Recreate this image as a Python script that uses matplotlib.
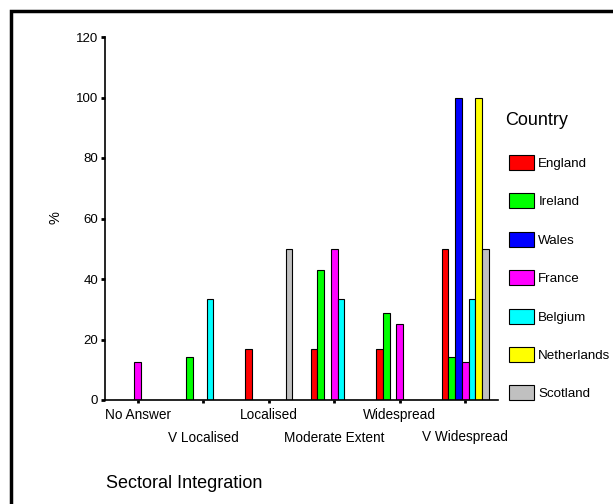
import numpy as np
import matplotlib.pyplot as plt
from matplotlib.patches import Rectangle

plt.rcParams['font.family'] = ['Liberation Sans', 'DejaVu Sans']

# Share of responses (%) per integration category, one list per country
categories = ['No Answer', 'V Localised', 'Localised', 'Moderate Extent', 'Widespread', 'V Widespread']
england = [0, 0, 16.7, 16.7, 16.7, 50]
ireland = [0, 14.3, 0, 42.9, 28.6, 14.3]
wales = [0, 0, 0, 0, 0, 100]
france = [12.5, 0, 0, 50, 25, 12.5]
belgium = [0, 33.3, 0, 33.3, 0, 33.3]
netherlands = [0, 0, 0, 0, 0, 100]
scotland = [0, 0, 50, 0, 0, 50]

countries = ['England', 'Ireland', 'Wales', 'France', 'Belgium', 'Netherlands', 'Scotland']
series = [england, ireland, wales, france, belgium, netherlands, scotland]
colors = ['#ff0000', '#00ff00', '#0000ff', '#ff00ff', '#00ffff', '#ffff00', '#c0c0c0']

W, H = 613, 504
fig = plt.figure(figsize=(W / 100, H / 100), dpi=100)

# heavy frame round the chart, running off the right and bottom edges
fig.patches.append(Rectangle((11 / W, -0.1), 1.2, 1 - 11 / H + 0.1, transform=fig.transFigure,
                             fill=False, edgecolor='black', linewidth=2.5))

ax = fig.add_axes([105 / W, (H - 400) / H, 393 / W, 363 / H])

x = np.arange(len(categories))
bar_w = 0.103
for i, (name, vals, col) in enumerate(zip(countries, series, colors)):
    offs = (i - 3) * bar_w
    ax.bar(x + offs, vals, width=bar_w, color=col, edgecolor='black', linewidth=0.8, label=name)

ax.set_xlim(-0.5, len(categories) - 0.5)
ax.set_ylim(0, 120)
ax.set_yticks(np.arange(0, 121, 20))
ax.tick_params(axis='y', length=3, width=2, pad=2, labelsize=9.5)
ax.set_xticks(x)
ax.set_xticklabels([])
ax.tick_params(axis='x', length=2, width=2)

for side in ['top', 'right']:
    ax.spines[side].set_visible(False)
ax.spines['left'].set_linewidth(1.2)
ax.spines['bottom'].set_linewidth(1.2)

# staggered category labels
for i, cat in enumerate(categories):
    dy = -10.5 if i % 2 == 0 else -27
    ax.annotate(cat, xy=(i, 0), xycoords=('data', 'axes fraction'), xytext=(0, dy),
                textcoords='offset points', ha='center', va='center', fontsize=9.8)

ax.set_ylabel('%', fontsize=10.5)
ax.yaxis.set_label_coords((62 - 105) / 393, (400 - 218) / 363)

ax.set_xlabel('Sectoral Integration', fontsize=13)
ax.xaxis.label.set_ha('left')
ax.xaxis.set_label_coords(1 / 393, -(483 - 400) / 363)
ax.xaxis.label.set_va('center')

# legend title placed on its own, entries below it
fig.text(505 / W, 1 - 125 / H, 'Country', fontsize=13, ha='left', va='baseline')
ax.legend(loc='upper left', bbox_to_anchor=(509 / W, 1 - 155 / H),
          bbox_transform=fig.transFigure, frameon=False, fontsize=9.6,
          handlelength=1.9, handleheight=1.36, handletextpad=0.3, labelspacing=1.75,
          borderpad=0, borderaxespad=0)

fig.savefig('out.png', dpi=100)
